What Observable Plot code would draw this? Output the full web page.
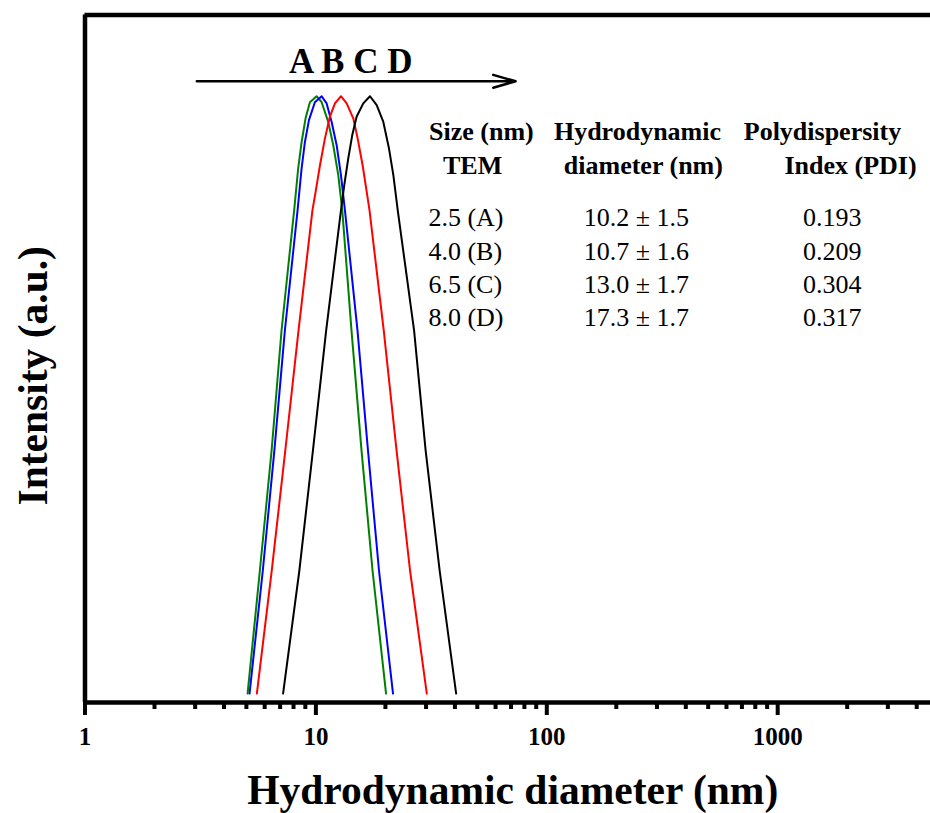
<!DOCTYPE html>
<html><head><meta charset="utf-8">
<script src="https://cdn.jsdelivr.net/npm/d3@7"></script>
<script src="https://cdn.jsdelivr.net/npm/@observablehq/plot@0.6"></script>
<style>
body{margin:0;background:#fff}
svg{font-family:"Liberation Serif","Times New Roman",serif}
</style>
</head><body><div id="chart"></div>
<script>
// ---- data ----
const samples = ["A", "B", "C", "D"];
const sampleColors = ["#008000", "#0000ff", "#ff0000", "#000000"];

const A_x = [5.06, 5.72, 6.43, 7.10, 8.05, 8.38, 8.67, 9.02, 9.42, 10.07, 10.59, 11.31, 11.89, 12.50, 13.01, 14.26, 15.76, 17.59, 20.13];
const A_y = [0, 20.6, 40.7, 60.8, 80.9, 87.9, 92.3, 96.3, 99.0, 100, 99.0, 95.7, 91.8, 86.8, 80.9, 60.8, 40.7, 20.6, 0];

const B_x = [5.16, 5.89, 6.61, 7.34, 8.33, 8.67, 8.96, 9.33, 9.90, 10.59, 11.13, 11.70, 12.30, 12.84, 13.36, 15.14, 16.81, 18.76, 21.58];
const B_y = [0, 20.6, 40.7, 60.8, 80.9, 87.9, 92.3, 96.0, 99.0, 100, 98.8, 95.7, 91.8, 86.8, 80.9, 60.8, 40.7, 20.6, 0];

const C_x = [5.55, 6.44, 7.37, 8.41, 9.66, 9.97, 10.41, 10.94, 11.50, 12.09, 12.84, 13.59, 14.52, 15.17, 15.94, 16.60, 17.07, 19.67, 22.35, 25.57, 30.22];
const C_y = [0, 20.6, 40.7, 60.8, 80.9, 84.0, 88.4, 92.9, 96.6, 98.8, 100, 98.8, 96.3, 92.9, 88.4, 84.0, 80.9, 60.8, 40.7, 20.6, 0];

const D_x = [7.21, 8.48, 9.71, 11.08, 12.84, 13.27, 13.81, 14.37, 15.02, 16.04, 17.15, 18.34, 19.59, 20.74, 21.65, 22.62, 26.62, 29.87, 34.35, 40.50];
const D_y = [0, 20.6, 40.7, 60.8, 80.9, 85.1, 89.6, 93.5, 96.6, 98.8, 100, 98.5, 95.7, 91.2, 86.8, 80.9, 60.8, 40.7, 20.6, 0];

const majorTicks = [1, 10, 100, 1000];
const minorTicks = [2,3,4,5,6,7,8,9,20,30,40,50,60,70,80,90,200,300,400,500,600,700,800,900,2000,3000,4000];

const xTitle = "Hydrodynamic diameter (nm)";
const yTitle = "Intensity (a.u.)";
const arrowLabel = "A B C D";

const headerLine1 = ["Size (nm)", "Hydrodynamic", "Polydispersity"];
const headerLine2 = ["TEM", "diameter (nm)", "Index (PDI)"];
const sizeTEM = ["2.5 (A)", "4.0 (B)", "6.5 (C)", "8.0 (D)"];
const hydroDiam = ["10.2 ± 1.5", "10.7 ± 1.6", "13.0 ± 1.7", "17.3 ± 1.7"];
const pdi = ["0.193", "0.209", "0.304", "0.317"];

// ---- layout (annotation anchors in data units) ----
const xDomain = [1, 4590];
const yDomain = [-1.5, 113.6];
const arrowX = [3.05, 73.3], arrowY = 102.5;
const labelAt = {x: 14.15, y: 105.7};
const headX1 = [52.1, 247, 1563];
const headX2 = [47.7, 262, 2068];
const headY = [94.1, 88.4];
const colX = [30.7, 244.5, 1725];
const rowY = [79.6, 74.0, 68.5, 63.0];

const seriesX = [A_x, B_x, C_x, D_x];
const seriesY = [A_y, B_y, C_y, D_y];
const pts = samples.flatMap((s, k) => seriesX[k].map((x, i) => ({sample: s, d: x, I: seriesY[k][i]})));

const head1 = headerLine1.map((t, i) => ({t, x: headX1[i], y: headY[0]}));
const head2 = headerLine2.map((t, i) => ({t, x: headX2[i], y: headY[1]}));
const cells = [sizeTEM, hydroDiam, pdi].flatMap((col, c) => col.map((t, r) => ({t, c, x: colX[c], y: rowY[r]})));

const font = '"Liberation Serif","Times New Roman",serif';

const chart = Plot.plot({
  width: 930, height: 813,
  marginLeft: 84.5, marginRight: 0, marginTop: 14.5, marginBottom: 111,
  style: {fontFamily: font, background: "white", color: "black", overflow: "visible"},
  x: {type: "log", domain: xDomain, axis: null},
  y: {domain: yDomain, axis: null},
  color: {domain: samples, range: sampleColors},
  marks: [
    Plot.line(pts, {x: "d", y: "I", z: "sample", stroke: "sample", strokeWidth: 2}),
    Plot.ruleX([xDomain[0]], {stroke: "black", strokeWidth: 4.5}),
    Plot.ruleY([yDomain[1]], {stroke: "black", strokeWidth: 4.5}),
    Plot.ruleY([yDomain[0]], {stroke: "black", strokeWidth: 4.5}),
    Plot.axisX({ticks: majorTicks, tickSize: 13, strokeWidth: 4, tickFormat: d => String(d), label: null,
      fontSize: 25, fontWeight: "bold", tickPadding: 12}),
    Plot.axisX({ticks: minorTicks, tickSize: 7, strokeWidth: 4, tickFormat: () => "", label: null}),
    Plot.arrow([{x1: arrowX[0], x2: arrowX[1], y: arrowY}], {x1: "x1", x2: "x2", y1: "y", y2: "y",
      stroke: "black", strokeWidth: 2.5, headLength: 14, headAngle: 32}),
    Plot.text([arrowLabel], {x: labelAt.x, y: labelAt.y, text: d => d, fontSize: 35, fontWeight: "bold"}),
    Plot.text(head1, {x: "x", y: "y", text: "t", fontSize: 26, fontWeight: "bold"}),
    Plot.text(head2, {x: "x", y: "y", text: "t", fontSize: 26, fontWeight: "bold"}),
    Plot.text(cells.filter(d => d.c === 0), {x: "x", y: "y", text: "t", fontSize: 26, textAnchor: "start"}),
    Plot.text(cells.filter(d => d.c > 0), {x: "x", y: "y", text: "t", fontSize: 26}),
    Plot.text([xTitle], {frameAnchor: "bottom", text: d => d, dx: 5, dy: 101, lineAnchor: "bottom", fontSize: 41.5, fontWeight: "bold"}),
    Plot.text([yTitle], {frameAnchor: "left", text: d => d, rotate: -90, textAnchor: "middle", lineAnchor: "middle", dx: -51, dy: 17, fontSize: 41.5, fontWeight: "bold"})
  ]
});
document.getElementById("chart").appendChild(chart);
</script>
</body></html>
